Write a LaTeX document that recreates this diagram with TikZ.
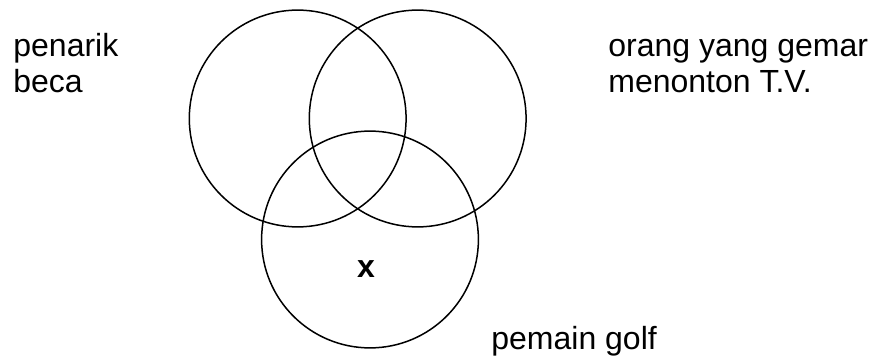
\documentclass[tikz,border=0pt]{standalone}
\usepackage{fontspec}
\setmainfont{Liberation Sans}
\usepackage{tikz}
\definecolor{inkclr}{RGB}{0,0,0}

\begin{document}
\begin{tikzpicture}[x=0.5pt, y=-0.5pt,
    font=\fontsize{16}{18}\selectfont,
    vset/.style={circle, draw=inkclr, line width=0.75pt, minimum size=108.4pt, inner sep=0pt},
    setlabel/.style={anchor=base west, inner sep=0pt, align=left, text=inkclr}]
  \useasboundingbox (0,0) rectangle (874,358);
  % the three sets
  \node[vset] (beca)  at (297.7,118.5) {};
  \node[vset] (tv)    at (417.7,118.5) {};
  \node[vset] (golf)  at (370,239.5)   {};
  % names of the sets (base = last line)
  \node[setlabel] (lbeca) at (13,92.7)   {penarik\\beca};
  \node[setlabel] (ltv)   at (608,92.7)  {orang yang gemar\\menonton T.V.};
  \node[setlabel] (lgolf) at (491,350)   {pemain golf};
  % the element in golf only
  \node[anchor=base, inner sep=0pt, font=\fontsize{16}{18}\selectfont\bfseries] (elx) at (366,277.3) {x};
\end{tikzpicture}
\end{document}
